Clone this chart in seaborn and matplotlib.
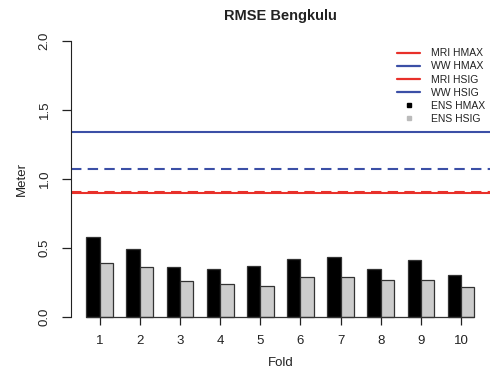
import seaborn as sns
import matplotlib.pyplot as plt
import pandas as pd
from matplotlib.lines import Line2D

# RMSE per fold
folds = ['1', '2', '3', '4', '5', '6', '7', '8', '9', '10']
ens_hmax = [0.58, 0.49, 0.36, 0.345, 0.367, 0.416, 0.435, 0.346, 0.408, 0.30]
ens_hsig = [0.39, 0.358, 0.259, 0.235, 0.222, 0.288, 0.288, 0.264, 0.266, 0.215]

# reference model RMSE (constant over folds)
mri_hmax = 0.897
ww_hmax = 1.336
mri_hsig = 0.905
ww_hsig = 1.068

red = '#e8302a'
blue = '#3b4fa6'

df = pd.DataFrame({
    'Fold': folds * 2,
    'RMSE': ens_hmax + ens_hsig,
    'Series': ['ENS HMAX'] * len(folds) + ['ENS HSIG'] * len(folds),
})

sns.set_style('white')
plt.rcParams['font.family'] = ['Liberation Sans', 'DejaVu Sans']

fig = plt.figure(figsize=(4.99, 3.76), dpi=100)
ax = fig.add_axes([0.1417, 0.1285, 0.9820 - 0.1417, 0.921 - 0.1285])

sns.barplot(data=df, x='Fold', y='RMSE', hue='Series',
            palette={'ENS HMAX': 'black', 'ENS HSIG': '#cccccc'},
            width=0.667, edgecolor='#333333', linewidth=0.9,
            saturation=1, legend=False, ax=ax)

# baseline under the bars
ax.plot([-0.333, 9.333], [0, 0], color='#333333', lw=0.9, zorder=3)

ax.axhline(ww_hmax, color=blue, lw=1.5)
ax.axhline(ww_hsig, color=blue, lw=1.5, ls=(0, (5, 3)))
ax.axhline(mri_hmax, color=red, lw=1.5)
ax.axhline(mri_hsig, color=red, lw=1.5, ls=(0, (5, 3)))

ax.set_xlim(-0.72, 9.72)
ax.set_ylim(-0.08, 2.08)
ax.set_yticks([0, 0.5, 1.0, 1.5, 2.0])
ax.set_yticklabels(['0.0', '0.5', '1.0', '1.5', '2.0'], rotation=90, va='center')

for s in ['top', 'right']:
    ax.spines[s].set_visible(False)
ax.spines['left'].set_bounds(0, 2)
ax.spines['left'].set_color('#222222')
ax.spines['bottom'].set_position(('data', 0))
ax.spines['bottom'].set_visible(False)

ax.tick_params(axis='y', direction='out', length=6.5, width=0.9, color='#222222',
               pad=8, labelsize=9.5, labelcolor='#222222', left=True)
ax.tick_params(axis='x', direction='out', length=5.5, width=0.9, color='#222222',
               pad=8, labelsize=9.5, labelcolor='#222222', bottom=True)

ax.set_xlabel('Fold', fontsize=9.5, color='#222222', labelpad=7)
ax.set_ylabel('Meter', fontsize=9.5, color='#222222', labelpad=8)
ax.set_title('RMSE Bengkulu', fontsize=10.5, fontweight='bold', color='#222222', pad=7)

handles = [
    Line2D([], [], color=red, lw=1.6),
    Line2D([], [], color=blue, lw=1.6),
    Line2D([], [], color=red, lw=1.6),
    Line2D([], [], color=blue, lw=1.6),
    Line2D([], [], color='black', marker='s', ls='none', markersize=3.5),
    Line2D([], [], color='#bbbbbb', marker='s', ls='none', markersize=3.5),
]
labels = ['MRI HMAX', 'WW HMAX', 'MRI HSIG', 'WW HSIG', 'ENS HMAX', 'ENS HSIG']
ax.legend(handles, labels, loc='upper right', bbox_to_anchor=(1.0, 0.955),
          frameon=False, fontsize=7.5, handlelength=2.2, labelspacing=0.3,
          borderpad=0, handletextpad=1.0, labelcolor='#222222')

fig.savefig('out.png', dpi=100)
